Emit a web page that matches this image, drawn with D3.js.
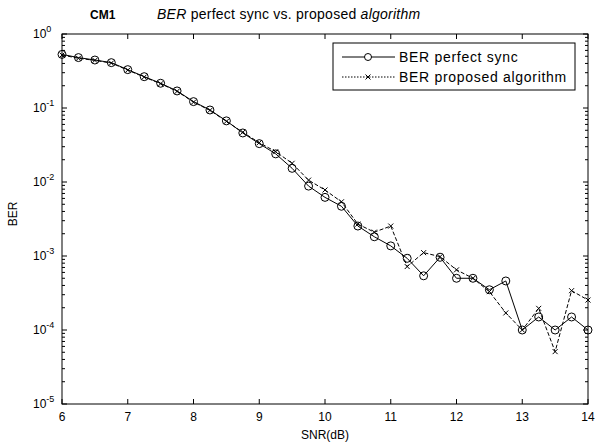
<!DOCTYPE html>
<html>
<head>
<meta charset="utf-8">
<script src="https://cdn.jsdelivr.net/npm/d3@7"></script>
<style>
  body { margin: 0; background: #fff; }
  text { font-family: "Liberation Sans", Arial, sans-serif; fill: #000; }
</style>
</head>
<body>
<div id="chart"></div>
<script>
// SNR points (dB)
var snr = [6, 6.25, 6.5, 6.75, 7, 7.25, 7.5, 7.75, 8, 8.25, 8.5, 8.75,
    9, 9.25, 9.5, 9.75, 10, 10.25, 10.5, 10.75, 11, 11.25, 11.5, 11.75,
    12, 12.25, 12.5, 12.75, 13, 13.25, 13.5, 13.75, 14];

// BER with perfect synchronisation
var berPerfect = [0.53, 0.48, 0.445, 0.41, 0.33, 0.265, 0.216, 0.17, 0.122, 0.094, 0.067, 0.046,
    0.033, 0.024, 0.0153, 0.0088, 0.0062, 0.0047, 0.00254, 0.00182, 0.00137, 0.00093, 0.00054, 0.00096,
    0.0005, 0.0005, 0.00035, 0.00046, 0.0001, 0.00015, 0.0001, 0.00015, 0.0001];

// BER with the proposed algorithm
var berProposed = [0.52, 0.47, 0.44, 0.405, 0.325, 0.262, 0.213, 0.168, 0.12, 0.093, 0.066, 0.047,
    0.034, 0.0257, 0.0179, 0.0106, 0.0078, 0.0054, 0.0027, 0.0021, 0.00254, 0.00072, 0.00111, 0.00098,
    0.00065, 0.0005, 0.00033, 0.00017, 0.0001, 0.000196, 0.000051, 0.00034, 0.000254];

var xTicks = [6, 7, 8, 9, 10, 11, 12, 13, 14];
var yExps = [0, -1, -2, -3, -4, -5];
var legendNames = ["BER perfect sync", "BER proposed algorithm"];

var W = 595, H = 445;
var margin = {top: 34, right: 7, bottom: 41, left: 62};
var iw = W - margin.left - margin.right, ih = H - margin.top - margin.bottom;

var svg = d3.select("#chart").append("svg")
    .attr("width", W).attr("height", H);

var g = svg.append("g")
    .attr("transform", "translate(" + margin.left + "," + margin.top + ")");

var x = d3.scaleLinear().domain([6, 14]).range([0, iw]);
var y = d3.scaleLog().domain([1e-5, 1]).range([ih, 0]);

// frame
g.append("rect").attr("width", iw).attr("height", ih)
    .attr("fill", "none").attr("stroke", "#000").attr("stroke-width", 1);

// x ticks (inside, top and bottom)
xTicks.forEach(function(t) {
    g.append("line").attr("x1", x(t)).attr("x2", x(t)).attr("y1", ih).attr("y2", ih - 5)
        .attr("stroke", "#000");
    g.append("line").attr("x1", x(t)).attr("x2", x(t)).attr("y1", 0).attr("y2", 5)
        .attr("stroke", "#000");
    g.append("text").attr("x", x(t)).attr("y", ih + 17)
        .attr("text-anchor", "middle").attr("font-size", 12).text(t);
});

// y ticks, major + minor on left and right
yExps.forEach(function(e) {
    var base = Math.pow(10, e);
    var yy = y(base);
    g.append("line").attr("x1", 0).attr("x2", 5).attr("y1", yy).attr("y2", yy).attr("stroke", "#000");
    g.append("line").attr("x1", iw).attr("x2", iw - 5).attr("y1", yy).attr("y2", yy).attr("stroke", "#000");
    var lab = g.append("text").attr("class", "ylab").attr("x", -29).attr("y", yy + 4)
        .attr("font-size", 12);
    lab.append("tspan").text("10");
    lab.append("tspan").attr("dy", -6).attr("font-size", 9).text(e);
    if (e > -5) {
        for (var k = 2; k <= 9; k++) {
            var ym = y(base * k / 10);
            g.append("line").attr("x1", 0).attr("x2", 3).attr("y1", ym).attr("y2", ym).attr("stroke", "#000");
            g.append("line").attr("x1", iw).attr("x2", iw - 3).attr("y1", ym).attr("y2", ym).attr("stroke", "#000");
        }
    }
});

// axis titles
svg.append("text").attr("x", margin.left + iw / 2).attr("y", 439)
    .attr("text-anchor", "middle").attr("font-size", 12).text("SNR(dB)");
svg.append("text").attr("transform", "translate(17," + (margin.top + ih / 2 - 5) + ") rotate(-90)")
    .attr("text-anchor", "middle").attr("font-size", 12).text("BER");

// title
svg.append("text").attr("x", 90).attr("y", 19).attr("font-size", 12)
    .attr("font-weight", "bold").text("CM1");
var title = svg.append("text").attr("x", 157).attr("y", 19).attr("font-size", 14)
    .attr("letter-spacing", 0.25);
title.append("tspan").attr("font-style", "italic").text("BER");
title.append("tspan").text(" perfect sync vs. proposed ");
title.append("tspan").attr("font-style", "italic").text("algorithm");

// series
var perfectData = snr.map(function(s, i) { return [s, berPerfect[i]]; });
var proposedData = snr.map(function(s, i) { return [s, berProposed[i]]; });
var line = d3.line().x(function(d) { return x(d[0]); }).y(function(d) { return y(d[1]); });

g.append("path").datum(proposedData).attr("d", line)
    .attr("fill", "none").attr("stroke", "#000").attr("stroke-width", 1)
    .attr("stroke-dasharray", "4,2");

g.append("path").datum(perfectData).attr("d", line)
    .attr("fill", "none").attr("stroke", "#000").attr("stroke-width", 1);

function drawX(sel, cx, cy, s) {
    sel.append("path")
        .attr("d", "M" + (cx - s) + "," + (cy - s) + "L" + (cx + s) + "," + (cy + s) +
            "M" + (cx - s) + "," + (cy + s) + "L" + (cx + s) + "," + (cy - s))
        .attr("stroke", "#000").attr("stroke-width", 1).attr("fill", "none");
}

g.selectAll("circle.pt").data(perfectData).enter().append("circle")
    .attr("class", "pt")
    .attr("cx", function(d) { return x(d[0]); })
    .attr("cy", function(d) { return y(d[1]); })
    .attr("r", 4)
    .attr("fill", "none").attr("stroke", "#000").attr("stroke-width", 1);

proposedData.forEach(function(d) { drawX(g, x(d[0]), y(d[1]), 2.5); });

// legend
var lg = svg.append("g");
lg.append("rect").attr("x", 333).attr("y", 43).attr("width", 242).attr("height", 47)
    .attr("fill", "#fff").attr("stroke", "#000");
lg.append("line").attr("x1", 342).attr("x2", 395).attr("y1", 57).attr("y2", 57).attr("stroke", "#000");
lg.append("circle").attr("cx", 368).attr("cy", 57).attr("r", 3.5)
    .attr("fill", "#fff").attr("stroke", "#000");
lg.append("line").attr("x1", 342).attr("x2", 395).attr("y1", 77).attr("y2", 77)
    .attr("stroke", "#000").attr("stroke-dasharray", "1.5,1.5");
drawX(lg, 368, 77, 2.5);
legendNames.forEach(function(n, i) {
    lg.append("text").attr("x", 399).attr("y", 62 + i * 20).attr("font-size", 14)
        .attr("letter-spacing", 0.7).text(n);
});
</script>
</body>
</html>
